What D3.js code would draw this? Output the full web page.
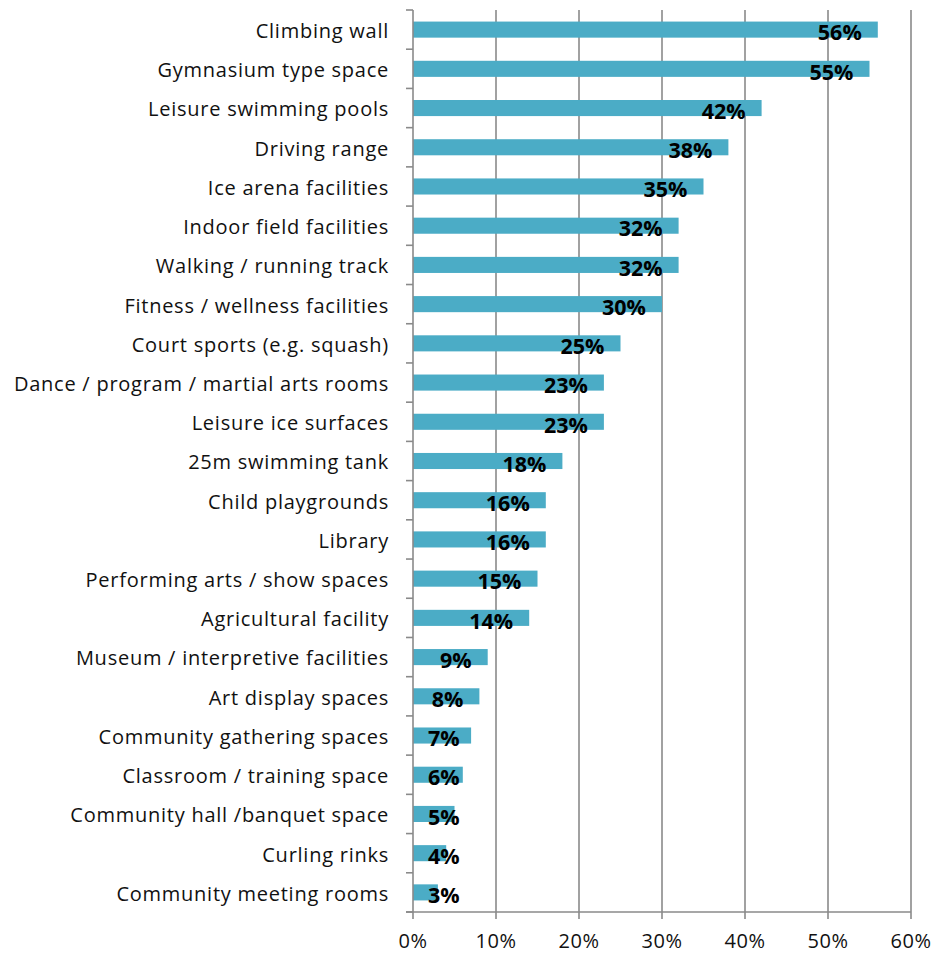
<!DOCTYPE html>
<html>
<head>
<meta charset="utf-8">
<script src="https://cdn.jsdelivr.net/npm/d3@7"></script>
<style>
  html, body { margin: 0; padding: 0; background: #fff; }
  svg { display: block; }
</style>
</head>
<body>
<svg id="chart" width="952" height="955"></svg>
<script>
// Facility categories, top to bottom
const categories = [
  "Climbing wall",
  "Gymnasium type space",
  "Leisure swimming pools",
  "Driving range",
  "Ice arena facilities",
  "Indoor field facilities",
  "Walking / running track",
  "Fitness / wellness facilities",
  "Court sports (e.g. squash)",
  "Dance / program / martial arts rooms",
  "Leisure ice surfaces",
  "25m swimming tank",
  "Child playgrounds",
  "Library",
  "Performing arts / show spaces",
  "Agricultural facility",
  "Museum / interpretive facilities",
  "Art display spaces",
  "Community gathering spaces",
  "Classroom / training space",
  "Community hall /banquet space",
  "Curling rinks",
  "Community meeting rooms"
];

// Share of respondents (%)
const values = [56, 55, 42, 38, 35, 32, 32, 30, 25, 23, 23, 18, 16, 16, 15, 14, 9, 8, 7, 6, 5, 4, 3];

// Axis tick values (%)
const xTicks = [0, 10, 20, 30, 40, 50, 60];

const data = categories.map((c, i) => ({ category: c, value: values[i] }));

const margin = { top: 10, right: 41, bottom: 43, left: 413 };
const width = 952, height = 955;
const innerW = width - margin.left - margin.right;
const innerH = height - margin.top - margin.bottom;

const svg = d3.select("#chart");
const g = svg.append("g").attr("transform", `translate(${margin.left},${margin.top})`);

const x = d3.scaleLinear().domain([0, 60]).range([0, innerW]);
const y = d3.scaleBand().domain(categories).range([0, innerH]).paddingInner(0.59).paddingOuter(0.295);
const band = d3.scaleBand().domain(categories).range([0, innerH]);

const axisColor = "#8a8a8a";
const fontFamily = "'Open Sans', 'Noto Sans', sans-serif";

// Vertical gridlines
g.append("g")
  .selectAll("line")
  .data(xTicks.slice(1))
  .join("line")
  .attr("x1", d => x(d)).attr("x2", d => x(d))
  .attr("y1", 0).attr("y2", innerH)
  .attr("stroke", axisColor)
  .attr("stroke-width", 1.6);

// Bars
g.append("g")
  .selectAll("rect")
  .data(data)
  .join("rect")
  .attr("x", x(0))
  .attr("y", d => y(d.category))
  .attr("width", d => x(d.value) - x(0))
  .attr("height", y.bandwidth())
  .attr("fill", "#4bacc6");

// Category axis: vertical line with ticks at band boundaries
const yAxis = g.append("g");
yAxis.append("line")
  .attr("x1", 0).attr("x2", 0)
  .attr("y1", 0).attr("y2", innerH)
  .attr("stroke", axisColor).attr("stroke-width", 1.6);
const boundaries = categories.map(c => band(c)).concat([innerH]);
yAxis.selectAll("line.tick")
  .data(boundaries)
  .join("line")
  .attr("class", "tick")
  .attr("x1", -7).attr("x2", 0)
  .attr("y1", d => d).attr("y2", d => d)
  .attr("stroke", axisColor).attr("stroke-width", 1.6);

yAxis.selectAll("text")
  .data(categories)
  .join("text")
  .attr("x", -24)
  .attr("y", d => y(d) + y.bandwidth() / 2)
  .attr("dy", "0.42em")
  .attr("text-anchor", "end")
  .attr("font-family", fontFamily)
  .attr("font-size", 20)
  .attr("letter-spacing", 0.75)
  .attr("fill", "#111")
  .text(d => d);

// Value axis at the bottom
const xAxis = g.append("g").attr("transform", `translate(0,${innerH})`);
xAxis.append("line")
  .attr("x1", -7).attr("x2", innerW)
  .attr("stroke", axisColor).attr("stroke-width", 1.6);
xAxis.selectAll("line.tick")
  .data(xTicks)
  .join("line")
  .attr("class", "tick")
  .attr("x1", d => x(d)).attr("x2", d => x(d))
  .attr("y1", 0).attr("y2", 7)
  .attr("stroke", axisColor).attr("stroke-width", 1.6);
xAxis.selectAll("text")
  .data(xTicks)
  .join("text")
  .attr("x", d => x(d))
  .attr("y", 36)
  .attr("text-anchor", "middle")
  .attr("font-family", fontFamily)
  .attr("font-size", 20)
  .attr("letter-spacing", 0.5)
  .attr("fill", "#111")
  .text(d => d + "%");

// Value labels, placed inside the bar end and kept clear of the axis
const labels = g.append("g")
  .selectAll("text")
  .data(data)
  .join("text")
  .attr("y", d => y(d.category) + y.bandwidth() / 2)
  .attr("dy", "0.5em")
  .attr("text-anchor", "end")
  .attr("font-family", fontFamily)
  .attr("font-weight", "bold")
  .attr("font-size", 21.5)
  .attr("fill", "#000")
  .text(d => d.value + "%");

labels.attr("x", function(d) {
  const w = this.getComputedTextLength();
  return Math.max(x(d.value) - 16, x(0) + 15 + w);
});
</script>
</body>
</html>
